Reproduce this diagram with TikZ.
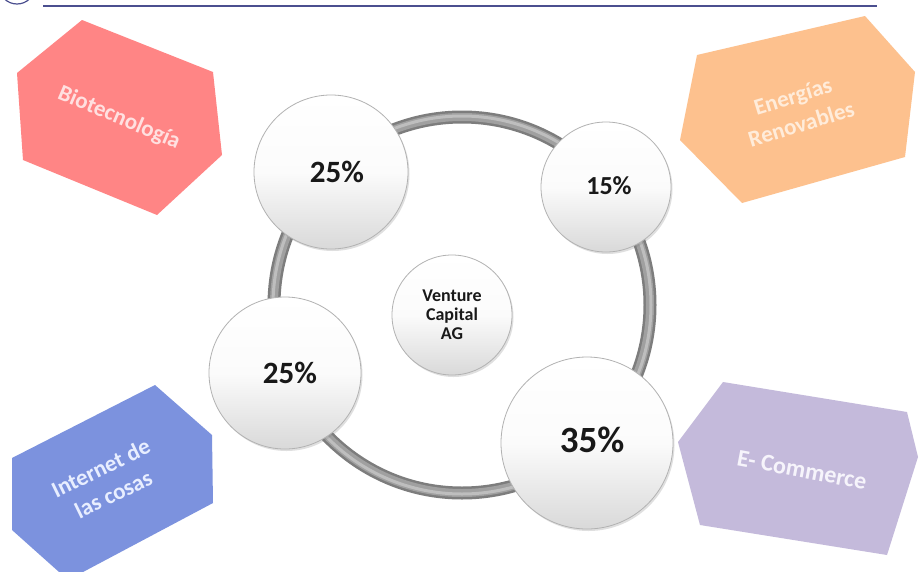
\documentclass[tikz,border=0pt]{standalone}
\usepackage{fontspec}
\setmainfont{Carlito}
\usetikzlibrary{shadows}
\definecolor{pinkhex}{RGB}{255,133,133}
\definecolor{orangehex}{RGB}{253,193,142}
\definecolor{bluehex}{RGB}{124,146,222}
\definecolor{purplehex}{RGB}{196,186,219}
\definecolor{pinktext}{RGB}{255,224,224}
\definecolor{orangetext}{RGB}{255,236,218}
\definecolor{bluetext}{RGB}{232,238,255}
\definecolor{purpletext}{RGB}{246,244,251}
\definecolor{navyline}{RGB}{75,79,143}
\definecolor{ringdark}{RGB}{125,125,125}
\definecolor{ringmid}{RGB}{160,160,160}
\definecolor{ringlight}{RGB}{190,190,190}
\begin{document}
\begin{tikzpicture}[x=1pt,y=-1pt,
  ball/.style={circle, draw=gray!60, line width=0.8pt, top color=white, bottom color=gray!30, middle color=white!97!gray,
    inner sep=0pt, drop shadow={opacity=0.25, shadow xshift=1.5pt, shadow yshift=-2pt},
    text=black!90},
  hexlabel/.style={align=center, inner sep=0pt}
]
\useasboundingbox (0,0) rectangle (919,571);
\clip (0,0) rectangle (919,571);
\fill[white] (0,0) rectangle (919,571);

% header
\draw[navyline, line width=1.2pt] (17,-14) circle[radius=18pt];
\draw[navyline, line width=2.5pt] (43,6) -- (877,6);

% hexagons
\fill[pinkhex] (82,20) -- (213,72) -- (222,155) -- (157,215) -- (23,160) -- (17,73) -- cycle;
\node[hexlabel, text=pinktext, rotate=-23, font=\bfseries\fontsize{23}{28}\selectfont] (bio) at (119,118) {Biotecnología};

\fill[orangehex] (865,16) -- (915,72) -- (905,157) -- (742,203) -- (680,140) -- (697,55) -- cycle;
\node[hexlabel, text=orangetext, rotate=17, font=\bfseries\fontsize{23}{29}\selectfont] (ener) at (797,110) {Energías\\Renovables};

\fill[bluehex] (155,385) -- (212,435) -- (213,503) -- (68,580) -- (12,530) -- (12,458) -- cycle;
\node[hexlabel, text=bluetext, rotate=26, font=\bfseries\fontsize{23}{29}\selectfont] (iot) at (107,481) {Internet de\\las cosas};

\fill[purplehex] (723,382) -- (907,412) -- (918,457) -- (887,555) -- (700,525) -- (678,442) -- cycle;
\node[hexlabel, text=purpletext, rotate=-10.7, font=\bfseries\fontsize{24}{29}\selectfont] (ecom) at (802,470) {E- Commerce};

% ring
\coordinate (ringc) at (462,305);
\draw[ringdark, line width=13pt] (ringc) circle[radius=188pt];
\draw[ringmid, line width=8pt] (ringc) circle[radius=188pt];
\draw[ringlight, line width=3pt] (ringc) circle[radius=189pt];

% balls
\node[ball, minimum size=154pt, font=\bfseries\fontsize{31}{31}\selectfont] (p1) at (331,172) {\hspace*{12pt}25\%};
\node[ball, minimum size=130pt, font=\bfseries\fontsize{26}{26}\selectfont] (p2) at (606,187) {\hspace*{6pt}\raisebox{3pt}{15\%}};
\node[ball, minimum size=152pt, font=\bfseries\fontsize{31}{31}\selectfont] (p3) at (285,373) {\hspace*{10pt}25\%};
\node[ball, minimum size=172pt, font=\bfseries\fontsize{37}{37}\selectfont] (p4) at (587,443) {\hspace*{10pt}\raisebox{6pt}{35\%}};
\node[ball, minimum size=120pt, align=center, font=\bfseries\fontsize{18}{19}\selectfont] (vc) at (452,315) {Venture\\Capital\\AG};
\end{tikzpicture}
\end{document}
